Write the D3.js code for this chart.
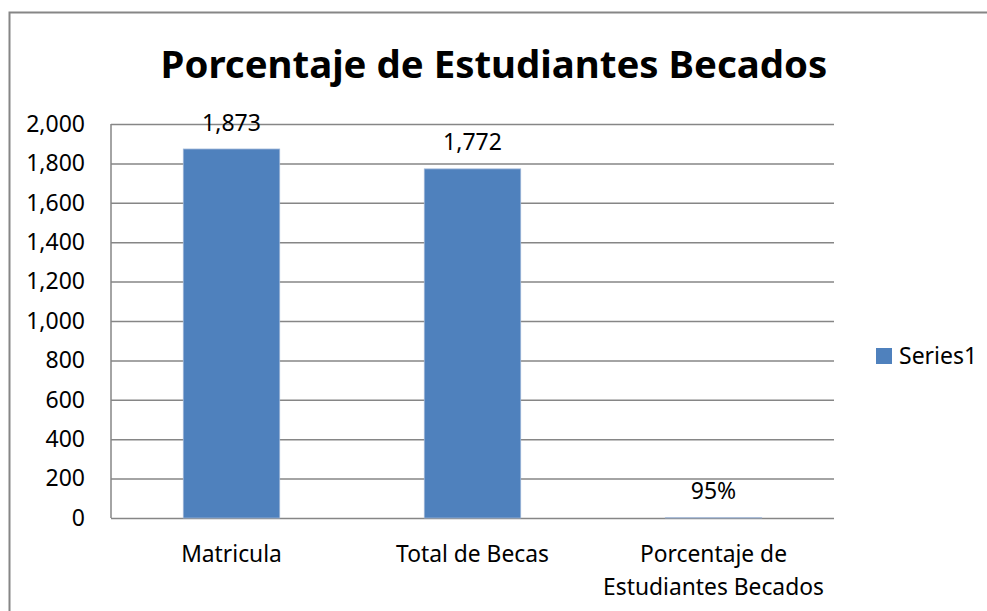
<!DOCTYPE html>
<html>
<head>
<meta charset="utf-8">
<script src="https://cdn.jsdelivr.net/npm/d3@7"></script>
<style>
  body { margin: 0; background: #fff; }
  svg { display: block; font-family: 'Noto Sans', sans-serif; }
</style>
</head>
<body>
<div id="root"></div>
<script>
// data
const categories = ['Matricula', 'Total de Becas', 'Porcentaje de Estudiantes Becados'];
const categoryLines = [['Matricula'], ['Total de Becas'], ['Porcentaje de', 'Estudiantes Becados']];
const values = [1873, 1772, 0.95];
const valueKinds = ['count', 'count', 'pct'];
const yTicks = [0, 200, 400, 600, 800, 1000, 1200, 1400, 1600, 1800, 2000];
const seriesName = 'Series1';
const title = 'Porcentaje de Estudiantes Becados';

const width = 987;
const height = 611;
const plotLeft = 111;
const plotRight = 834;
const plotTop = 124;
const plotBottom = 518;
const barColor = '#4F81BD';
const gridColor = '#868686';
const textSize = '23px';

const svg = d3.select('#root')
  .append('svg')
  .attr('width', width)
  .attr('height', height);

// outer chart border (runs off the right and bottom edges)
svg.append('rect')
  .attr('x', 9.5)
  .attr('y', 12.5)
  .attr('width', 1000)
  .attr('height', 620)
  .attr('fill', '#fff')
  .attr('stroke', gridColor)
  .attr('stroke-width', 2);

svg.append('text')
  .attr('x', 494)
  .attr('y', 78)
  .attr('text-anchor', 'middle')
  .style('font-size', '38.4px')
  .style('font-weight', 'bold')
  .text(title);

const xScale = d3.scaleBand()
  .domain(categories)
  .range([plotLeft, plotRight])
  .paddingInner(0.6)
  .paddingOuter(0.3);

const yScale = d3.scaleLinear()
  .domain([0, 2000])
  .range([plotBottom, plotTop]);

const yAxis = d3.axisLeft(yScale)
  .tickValues(yTicks)
  .tickFormat(d3.format(','))
  .tickSize(-(plotRight - plotLeft))
  .tickPadding(26);

const yG = svg.append('g')
  .attr('transform', `translate(${plotLeft}, 0)`)
  .call(yAxis);
yG.select('.domain').remove();
yG.selectAll('.tick line')
  .attr('stroke', gridColor)
  .attr('stroke-width', 1.5);
yG.selectAll('.tick text')
  .attr('fill', '#000')
  .style('font-size', textSize)
  .style('font-family', "'Noto Sans', sans-serif");

// vertical axis line
svg.append('line')
  .attr('x1', plotLeft).attr('x2', plotLeft)
  .attr('y1', plotTop).attr('y2', plotBottom)
  .attr('stroke', gridColor)
  .attr('stroke-width', 1.5);

const data = categories.map((c, i) => ({ cat: c, v: values[i], kind: valueKinds[i], lines: categoryLines[i] }));

svg.selectAll('rect.bar')
  .data(data)
  .enter()
  .append('rect')
  .attr('class', 'bar')
  .attr('x', d => xScale(d.cat))
  .attr('y', d => yScale(d.v))
  .attr('width', xScale.bandwidth())
  .attr('height', d => plotBottom - yScale(d.v))
  .attr('fill', barColor)
  .attr('stroke', '#9bb4d6')
  .attr('stroke-width', 0.8);

const fmtCount = d3.format(',');
const fmtPct = d3.format('.0%');

svg.selectAll('text.label')
  .data(data)
  .enter()
  .append('text')
  .attr('class', 'label')
  .attr('x', d => xScale(d.cat) + xScale.bandwidth() / 2)
  .attr('y', d => yScale(d.v) - 18.5)
  .attr('text-anchor', 'middle')
  .style('font-size', textSize)
  .text(d => d.kind === 'pct' ? fmtPct(d.v) : fmtCount(d.v));

// category labels
const catG = svg.selectAll('text.cat')
  .data(data)
  .enter()
  .append('text')
  .attr('class', 'cat')
  .attr('text-anchor', 'middle')
  .style('font-size', '22.8px');
catG.selectAll('tspan')
  .data(d => d.lines.map((l, j) => ({ l, j, cat: d.cat })))
  .enter()
  .append('tspan')
  .attr('x', d => xScale(d.cat) + xScale.bandwidth() / 2)
  .attr('y', d => 562 + d.j * 33)
  .text(d => d.l);

// legend
const legend = svg.append('g')
  .attr('transform', 'translate(876, 348)');
legend.append('rect')
  .attr('width', 16)
  .attr('height', 16)
  .attr('fill', barColor);
legend.append('text')
  .attr('x', 23)
  .attr('y', 16)
  .style('font-size', textSize)
  .text(seriesName);
</script>
</body>
</html>
